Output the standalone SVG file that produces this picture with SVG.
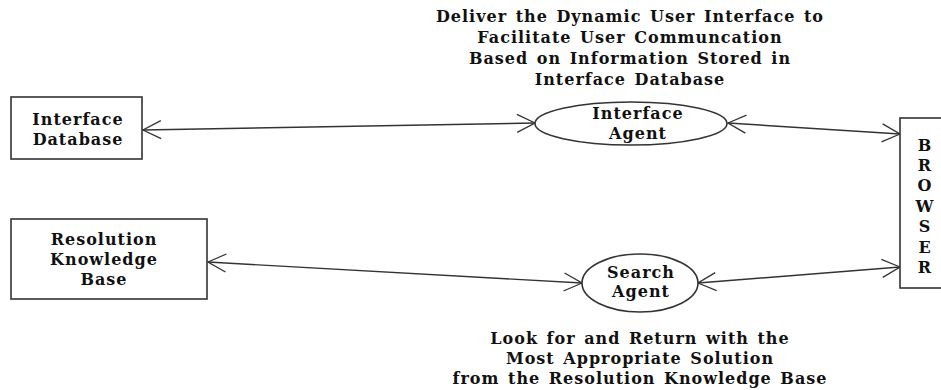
<svg xmlns="http://www.w3.org/2000/svg" width="941" height="390" viewBox="0 0 941 390">
<style>
text{font-family:"DejaVu Serif","Liberation Serif",serif;font-weight:bold;font-size:16px;letter-spacing:1px;word-spacing:2px;fill:#111;text-anchor:middle}
.box{fill:#fff;stroke:#333;stroke-width:1.6}
.conn{stroke:#333;stroke-width:1.4;fill:none;marker-start:url(#ah);marker-end:url(#ah)}
</style>
<defs>
<marker id="ah" markerUnits="userSpaceOnUse" markerWidth="30" markerHeight="30" viewBox="-20 -15 30 30" refX="0" refY="0" orient="auto-start-reverse" overflow="visible">
<path d="M-18,-9 L0,0 L-18,9" fill="none" stroke="#333" stroke-width="1.3"/>
</marker>
</defs>
<rect width="941" height="390" fill="#fff"/>
<g id="connectors">
<line class="conn" x1="143" y1="130" x2="535" y2="123"/>
<line class="conn" x1="728" y1="123" x2="900" y2="134"/>
<line class="conn" x1="208" y1="262" x2="582" y2="283"/>
<line class="conn" x1="698" y1="283" x2="900" y2="267"/>
</g>
<g id="interface-db">
<rect class="box" x="11" y="97" width="131" height="62"/>
<text x="78" y="125">Interface</text>
<text x="78" y="145">Database</text>
</g>
<g id="resolution-kb">
<rect class="box" x="11" y="219" width="196" height="80"/>
<text x="104" y="245">Resolution</text>
<text x="104" y="265">Knowledge</text>
<text x="104" y="285">Base</text>
</g>
<g id="interface-agent">
<ellipse class="box" cx="631" cy="123.5" rx="96" ry="21.5"/>
<text x="638" y="119">Interface</text>
<text x="638" y="138.5">Agent</text>
</g>
<g id="search-agent">
<ellipse class="box" cx="640" cy="283" rx="58" ry="29"/>
<text x="641" y="278">Search</text>
<text x="641" y="297">Agent</text>
</g>
<g id="browser">
<rect class="box" x="900" y="118" width="60" height="170"/>
<text x="925" y="151">B</text>
<text x="925" y="171">R</text>
<text x="925" y="191">O</text>
<text x="925" y="212">W</text>
<text x="925" y="232">S</text>
<text x="925" y="253">E</text>
<text x="925" y="273">R</text>
</g>
<g id="top-label">
<text x="630" y="22">Deliver the Dynamic User Interface to</text>
<text x="630" y="43">Facilitate User Communcation</text>
<text x="630" y="64">Based on Information Stored in</text>
<text x="630" y="85">Interface Database</text>
</g>
<g id="bottom-label">
<text x="640" y="344">Look for and Return with the</text>
<text x="640" y="364">Most Appropriate Solution</text>
<text x="640" y="384">from the Resolution Knowledge Base</text>
</g>
</svg>
